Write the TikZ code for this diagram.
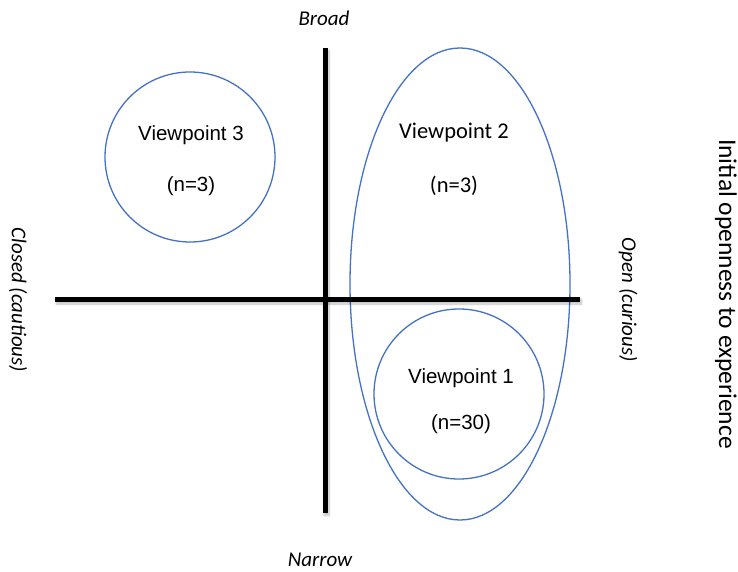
\documentclass[tikz,border=0pt]{standalone}
\usepackage{fontspec}
\setmainfont{Liberation Sans}
\newfontfamily\labelfont{Carlito}
\usetikzlibrary{shadows.blur,shapes.geometric}
\definecolor{vpblue}{RGB}{68,114,196}
\begin{document}
\begin{tikzpicture}[x=1pt,y=-1pt,
  axisbar/.style={fill=black,draw=none,inner sep=0pt,
    blur shadow={shadow xshift=1.5pt,shadow yshift=-2.5pt,shadow blur steps=6,shadow opacity=25}},
  vpshape/.style={draw=vpblue,line width=1.3pt,inner sep=0pt},
  vptext/.style={inner sep=0pt,font=\fontsize{20.5}{24}\selectfont},
  vpalttext/.style={inner sep=0pt,font=\labelfont\fontsize{22.5}{27}\selectfont},
  poletext/.style={inner sep=0pt,font=\labelfont\itshape\fontsize{21}{25}\selectfont},
  titletext/.style={inner sep=0pt,font=\labelfont\fontsize{25.5}{30}\selectfont}]
  \useasboundingbox (0,0) rectangle (738,572);
  % groupings
  \node[vpshape,circle,minimum size=170pt] (vp3) at (190,157) {};
  \node[vpshape,ellipse,minimum width=220pt,minimum height=472pt] (vp2) at (460,284) {};
  \node[vpshape,circle,minimum size=170pt] (vp1) at (459,394) {};
  % axes
  \node[axisbar,minimum width=5pt,minimum height=465pt] (vaxis) at (325,280.5) {};
  \node[axisbar,minimum width=525pt,minimum height=5pt] (haxis) at (317.5,299) {};
  % group labels
  \node[vptext] (vp3a) at (191,135) {Viewpoint 3};
  \node[vptext] (vp3b) at (191,186) {(n=3)};
  \node[vpalttext] (vp2a) at (454,133) {Viewpoint 2};
  \node[vpalttext] (vp2b) at (454,186) {(n=3)};
  \node[vptext] (vp1a) at (461,378) {Viewpoint 1};
  \node[vptext] (vp1b) at (461,424) {(n=30)};
  % pole labels
  \node[poletext] (broad) at (324,18) {Broad};
  \node[poletext] (narrow) at (320,560) {Narrow};
  \node[poletext,rotate=-90] (closed) at (18,300) {Closed (cautious)};
  \node[poletext,rotate=-90] (open) at (628,300) {Open (curious)};
  \node[titletext,rotate=-90] (title) at (726,294) {Initial openness to experience};
\end{tikzpicture}
\end{document}
